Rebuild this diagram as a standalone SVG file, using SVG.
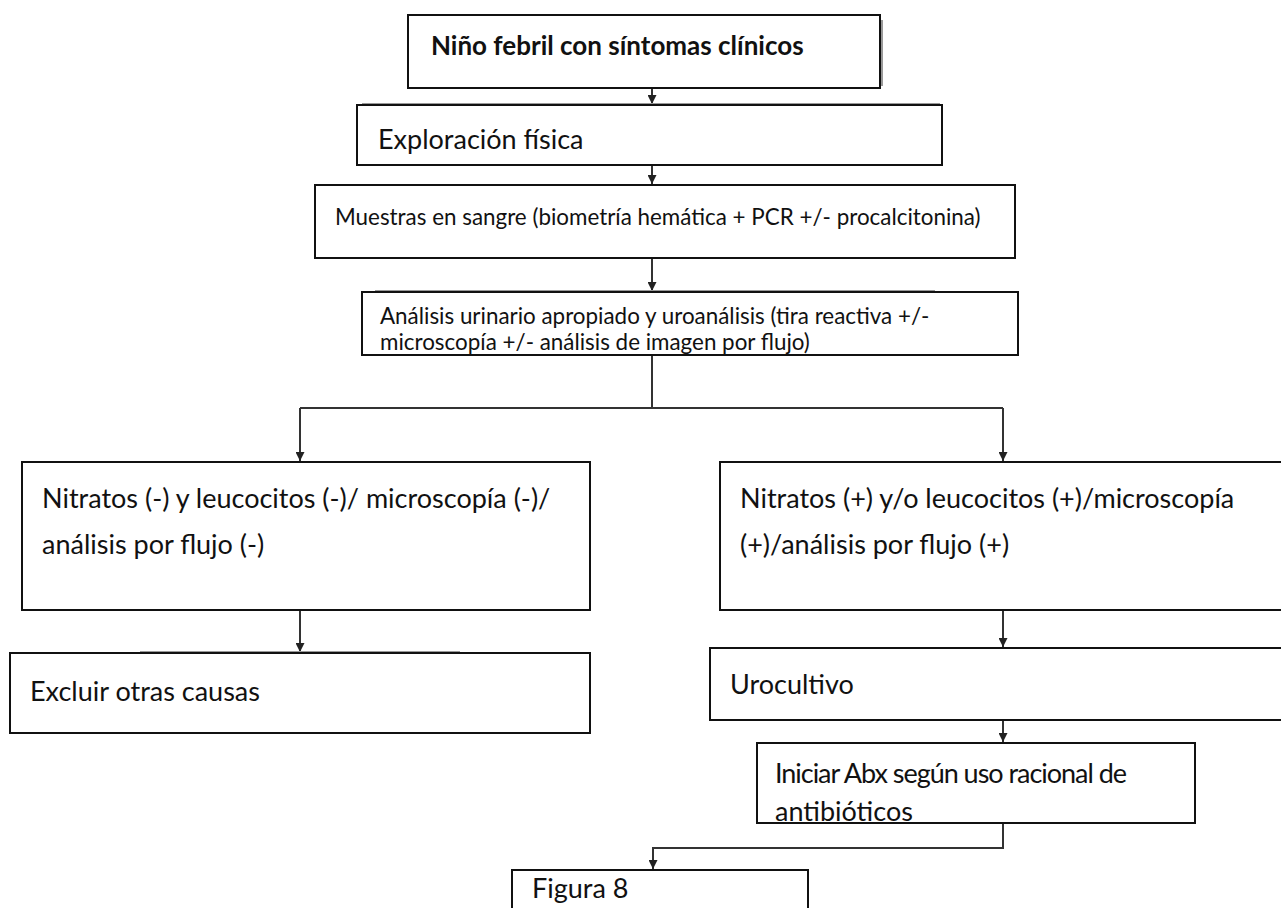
<svg xmlns="http://www.w3.org/2000/svg" width="1281" height="908" viewBox="0 0 1281 908">
<defs>
<marker id="ah" viewBox="0 0 10 10" refX="10" refY="5" markerWidth="9" markerHeight="9" markerUnits="userSpaceOnUse" orient="auto">
<path d="M0,0 L10,5 L0,10 z" fill="#222"/>
</marker>
<style>
.box{fill:#fff;stroke:#111;stroke-width:2}
.t{font-family:Lato,"Open Sans","Liberation Sans",sans-serif;fill:#111;font-size:27px}
.s{font-size:22.4px}
.b{font-weight:bold;font-size:26px}
.c{fill:none;stroke:#333;stroke-width:2}
.sh{fill:none;stroke:#999;stroke-width:2}
</style>
</defs>
<rect width="1281" height="908" fill="#fff"/>
<g id="connectors">
<path class="c" d="M652,88 V104" marker-end="url(#ah)"/>
<path class="c" d="M652,165 V184" marker-end="url(#ah)"/>
<path class="c" d="M652,258 V291" marker-end="url(#ah)"/>
<path class="c" d="M652,355 V408 M300,408 H1003"/>
<path class="c" d="M300,408 V461" marker-end="url(#ah)"/>
<path class="c" d="M1003,408 V461" marker-end="url(#ah)"/>
<path class="c" d="M300,610 V652" marker-end="url(#ah)"/>
<path class="c" d="M1003,610 V647" marker-end="url(#ah)"/>
<path class="c" d="M1003,720 V742" marker-end="url(#ah)"/>
<path class="c" d="M1003,823 V848 H653 V869" marker-end="url(#ah)"/>
</g>
<g id="n1">
<line class="sh" x1="882" y1="20" x2="882" y2="86"/>
<rect class="box" x="408" y="15" width="472" height="73"/>
<text class="t b" x="431" y="55">Niño febril con síntomas clínicos</text>
</g>
<g id="n2">
<line class="sh" x1="362" y1="104" x2="940" y2="104"/>
<rect class="box" x="357" y="105" width="585" height="60"/>
<text class="t" x="378" y="149">Exploración física</text>
</g>
<g id="n3">
<rect class="box" x="315" y="185" width="700" height="73"/>
<text class="t s" x="335" y="225">Muestras en sangre (biometría hemática + PCR +/- procalcitonina)</text>
</g>
<g id="n4">
<line class="sh" x1="375" y1="291" x2="935" y2="291"/>
<rect class="box" x="362" y="292" width="656" height="63"/>
<text class="t s" x="380" y="324">Análisis urinario apropiado y uroanálisis (tira reactiva +/-</text>
<text class="t s" x="380" y="350">microscopía +/- análisis de imagen por flujo)</text>
</g>
<g id="n5">
<rect class="box" x="22" y="462" width="568" height="148"/>
<text class="t" x="42" y="508">Nitratos (-) y leucocitos (-)/ microscopía (-)/</text>
<text class="t" x="42" y="554">análisis por flujo (-)</text>
</g>
<g id="n6">
<rect class="box" x="720" y="462" width="580" height="148"/>
<text class="t" x="740" y="508">Nitratos (+) y/o leucocitos (+)/microscopía</text>
<text class="t" x="740" y="554">(+)/análisis por flujo (+)</text>
</g>
<g id="n7">
<line class="sh" x1="140" y1="652" x2="460" y2="652"/>
<rect class="box" x="10" y="653" width="580" height="80"/>
<text class="t" x="30" y="701">Excluir otras causas</text>
</g>
<g id="n8">
<rect class="box" x="710" y="648" width="590" height="72"/>
<text class="t" x="730" y="694">Urocultivo</text>
</g>
<g id="n9">
<rect class="box" x="757" y="743" width="438" height="80"/>
<text class="t" x="775" y="783" font-size="26" textLength="352" lengthAdjust="spacing">Iniciar Abx según uso racional de</text>
<text class="t" x="775" y="821" font-size="26">antibióticos</text>
</g>
<g id="n10">
<rect class="box" x="512" y="870" width="296" height="50"/>
<text class="t" x="532" y="898">Figura 8</text>
</g>
</svg>
